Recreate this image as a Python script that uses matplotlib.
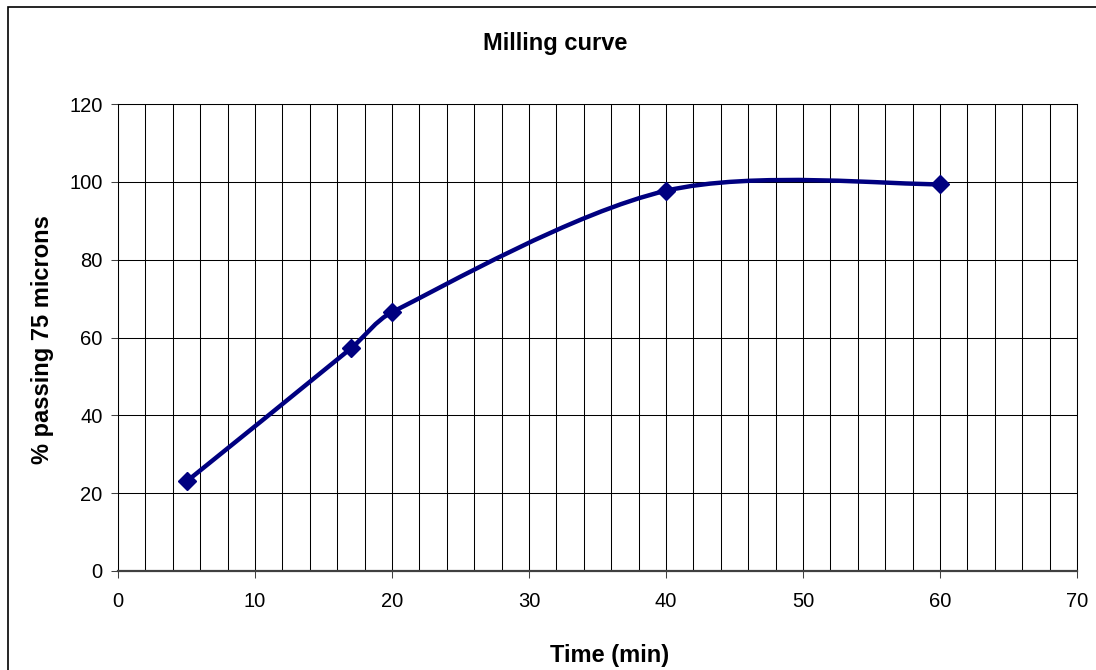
import matplotlib.pyplot as plt
import numpy as np
from matplotlib.path import Path
from matplotlib.patches import PathPatch, Rectangle
from matplotlib.ticker import MultipleLocator

plt.rcParams['font.family'] = ['Liberation Sans', 'DejaVu Sans']

# milling test data
time_min = [5, 17, 20, 40, 60]
passing = [23.0, 57.2, 66.5, 97.7, 99.4]

title = 'Milling curve'
x_label = 'Time (min)'
y_label = '% passing 75 microns'
line_color = '#000080'

x_lim = (0, 70)
y_lim = (0, 120)
ax_px = (959, 467)  # plot area size in pixels


def smooth_path(xs, ys):
    # excel style smoothed line: cubic bezier through the points,
    # tangents worked out in screen proportions and limited on short segments
    sx = ax_px[0] / (x_lim[1] - x_lim[0])
    sy = ax_px[1] / (y_lim[1] - y_lim[0])
    p = np.column_stack([np.asarray(xs) * sx, np.asarray(ys) * sy]).astype(float)
    ext = np.vstack([p[0], p, p[-1]])
    verts = [p[0]]
    codes = [Path.MOVETO]
    for i in range(len(p) - 1):
        p0, p1, p2, p3 = ext[i], ext[i + 1], ext[i + 2], ext[i + 3]
        d01 = np.hypot(*(p1 - p0))
        d12 = np.hypot(*(p2 - p1))
        d23 = np.hypot(*(p3 - p2))
        f1 = min(1.0, 2 * d12 / (d01 + d12)) if d01 > 0 else 1.0
        f2 = min(1.0, 2 * d12 / (d12 + d23)) if d23 > 0 else 1.0
        c1 = p1 + (p2 - p0) / 6.0 * f1
        c2 = p2 - (p3 - p1) / 6.0 * f2
        verts += [c1, c2, p2]
        codes += [Path.CURVE4] * 3
    verts = np.array(verts) / [sx, sy]
    return Path(verts, codes)


fig = plt.figure(figsize=(10.96, 6.70), dpi=100)
ax = fig.add_axes([118 / 1096, 99 / 670, ax_px[0] / 1096, ax_px[1] / 670])

ax.set_xlim(*x_lim)
ax.set_ylim(*y_lim)
ax.xaxis.set_major_locator(MultipleLocator(10))
ax.xaxis.set_minor_locator(MultipleLocator(2))
ax.yaxis.set_major_locator(MultipleLocator(20))

ax.grid(True, which='minor', axis='x', color='black', lw=0.75)
ax.grid(True, which='major', axis='x', color='black', lw=0.75)
ax.grid(True, which='major', axis='y', color='black', lw=0.75)
ax.set_axisbelow(True)

for s in ['top', 'right', 'left']:
    ax.spines[s].set_linewidth(0.75)
    ax.spines[s].set_color('black')
ax.spines['bottom'].set_linewidth(1.6)
ax.spines['bottom'].set_color('#404040')

ax.tick_params(axis='both', which='major', direction='out', length=5,
               width=0.75, labelsize=14.5, color='#404040')
ax.tick_params(axis='x', which='minor', length=0)
ax.tick_params(axis='x', pad=10)
ax.tick_params(axis='y', pad=6)

patch = PathPatch(smooth_path(time_min, passing), fill=False,
                  edgecolor=line_color, lw=3.2, capstyle='round',
                  joinstyle='round', zorder=3)
ax.add_patch(patch)
ax.plot(time_min, passing, ls='none', marker='D', ms=9.5,
        color=line_color, zorder=4, clip_on=False)

fig.text(555 / 1096, 1 - 50 / 670, title, ha='center', va='baseline',
         fontsize=17, fontweight='bold')
fig.text(610 / 1096, 1 - 662 / 670, x_label, ha='center', va='baseline',
         fontsize=17, fontweight='bold')
fig.text(43 / 1096, 1 - 340 / 670, y_label, ha='center', va='center',
         rotation=90, fontsize=17, fontweight='bold')

# chart area border
fig.patches.append(Rectangle((8 / 1096, -0.05), 1.2, 1 - 7 / 670 + 0.05,
                             transform=fig.transFigure, fill=False,
                             edgecolor='black', lw=1.2))

fig.savefig('out.png', dpi=100)
